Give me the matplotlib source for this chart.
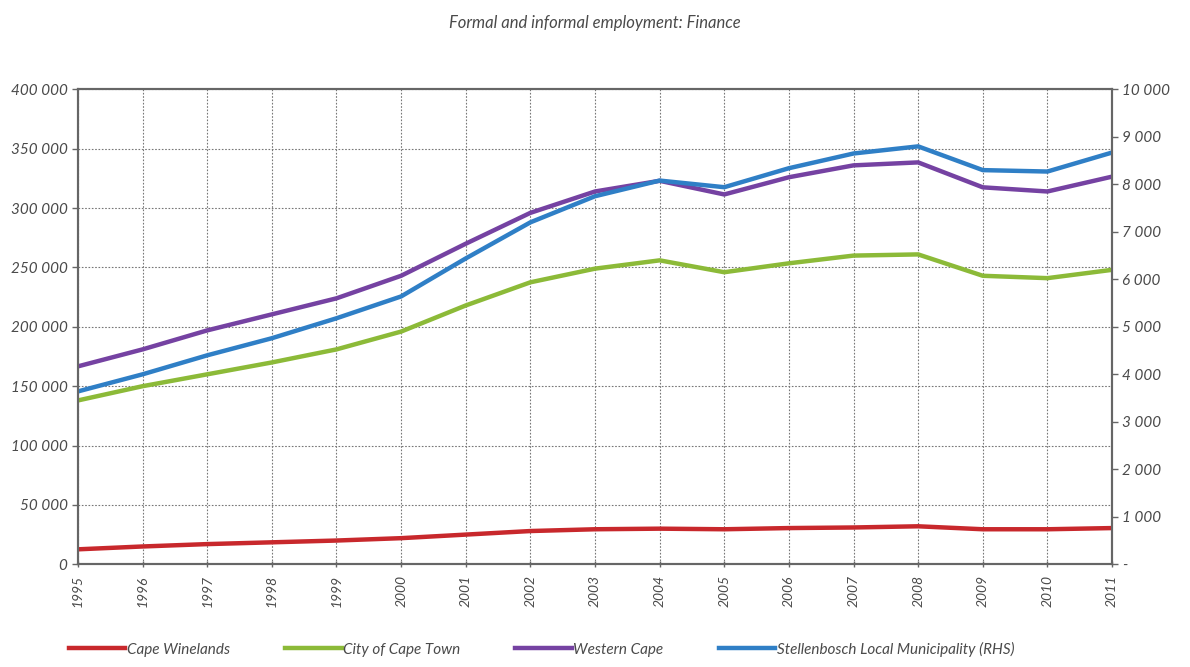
import matplotlib.pyplot as plt
from matplotlib.ticker import FuncFormatter

years = list(range(1995, 2012))

cape_winelands = [12600, 15000, 17000, 18500, 20000, 22000, 25000, 28000, 29500,
                  30000, 29500, 30500, 31000, 32000, 29500, 29500, 30500]
city_of_cape_town = [138000, 150000, 160000, 170000, 181000, 196000, 218000, 237500, 249000,
                     256000, 246000, 253500, 260000, 261000, 243000, 241000, 248000]
western_cape = [166700, 181000, 197000, 210500, 224000, 243000, 270000, 296000, 314000,
                323000, 311500, 326000, 336000, 338500, 317500, 314000, 326500]
stellenbosch_rhs = [3640, 4000, 4400, 4760, 5180, 5640, 6440, 7200, 7750,
                    8080, 7940, 8340, 8650, 8800, 8300, 8270, 8670]

TEXT = "#4a4a4a"
plt.rcParams["font.family"] = ["Lato", "DejaVu Sans"]


def fmt_thousands(v, _pos):
    if v == 0:
        return "0"
    return f"{int(round(v)):,}".replace(",", " ")


def fmt_rhs(v, _pos):
    if v == 0:
        return "-"
    return f"{int(round(v)):,}".replace(",", " ")


fig = plt.figure(figsize=(11.9, 6.67), dpi=100)
ax = fig.add_axes([0.0655, 0.154, 0.869, 0.712])
ax2 = ax.twinx()

lw = 3.2
l1, = ax.plot(years, cape_winelands, color="#c8282c", lw=lw, label="Cape Winelands")
l2, = ax.plot(years, city_of_cape_town, color="#8cba38", lw=lw, label="City of Cape Town")
l3, = ax.plot(years, western_cape, color="#7542a2", lw=lw, label="Western Cape")
l4, = ax2.plot(years, stellenbosch_rhs, color="#2f7fc6", lw=lw,
               label="Stellenbosch Local Municipality (RHS)")

ax.set_xlim(1995, 2011)
ax.set_ylim(0, 400000)
ax2.set_ylim(0, 10000)
ax.set_yticks(range(0, 400001, 50000))
ax2.set_yticks(range(0, 10001, 1000))
ax.yaxis.set_major_formatter(FuncFormatter(fmt_thousands))
ax2.yaxis.set_major_formatter(FuncFormatter(fmt_rhs))
ax.set_xticks(years)
ax.set_xticklabels([str(y) for y in years], rotation=90)

ax.grid(True, color="#777777", linestyle=(0, (1.5, 1.5)), linewidth=0.8)
ax.set_axisbelow(True)

for a in (ax, ax2):
    for s in a.spines.values():
        s.set_color("#666666")
        s.set_linewidth(1.5)
    a.tick_params(colors="#666666", labelcolor=TEXT, labelsize=11, length=4, width=1)
    for t in a.get_yticklabels() + a.get_xticklabels():
        t.set_fontstyle("italic")
ax.tick_params(axis="x", pad=6, direction="inout", labelsize=10)

fig.text(0.5, 0.965, "Formal and informal employment: Finance", ha="center", va="center",
         fontsize=12, style="italic", color=TEXT)

leg = fig.legend(handles=[l1, l2, l3, l4], loc="lower center", ncol=4, frameon=False,
                 bbox_to_anchor=(0.455, -0.005), handlelength=3.7, columnspacing=3.6,
                 handletextpad=0.1, fontsize=11)
for t in leg.get_texts():
    t.set_fontstyle("italic")
    t.set_color(TEXT)

fig.savefig("out.png", dpi=100)
